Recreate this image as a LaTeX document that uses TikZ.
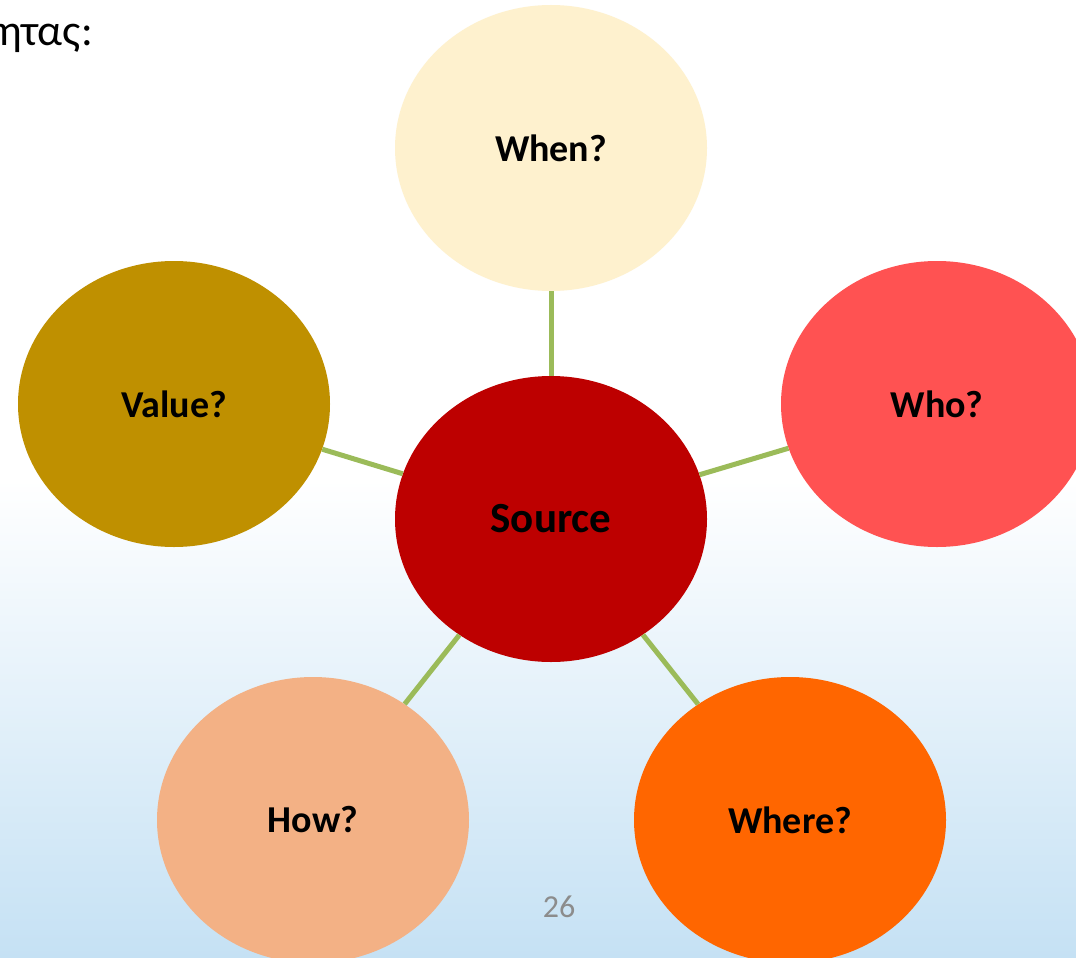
\documentclass[tikz,border=0pt]{standalone}
\usepackage{fontspec}
\setmainfont{Carlito}
\setsansfont{Carlito}
\usetikzlibrary{shapes.geometric}
\definecolor{whenc}{HTML}{FEF1CE}
\definecolor{valuec}{HTML}{BF9000}
\definecolor{whoc}{HTML}{FF5252}
\definecolor{srcc}{HTML}{BD0000}
\definecolor{howc}{HTML}{F3B185}
\definecolor{wherec}{HTML}{FF6600}
\definecolor{linkc}{HTML}{9BBB59}
\definecolor{bgblue}{HTML}{C5E1F4}
\definecolor{numc}{HTML}{8C8C8C}
\tikzset{
  bubble/.style={ellipse, minimum width=312pt, minimum height=286pt, inner sep=0pt,
    font=\fontsize{38}{42}\selectfont\bfseries, text=black},
  link/.style={draw=linkc, line width=5pt}
}
\begin{document}
\begin{tikzpicture}[x=1pt,y=-1pt]
\useasboundingbox (0,0) rectangle (1076,958);
\clip (0,0) rectangle (1076,958);
\fill[white] (0,0) rectangle (1076,480);
\shade[top color=white, bottom color=bgblue] (0,479) rectangle (1076,958);
\node[anchor=base west, font=\fontsize{44}{48}\selectfont, inner sep=0pt] (title) at (-2,46) {ητας:};
\node[bubble, fill=whenc] (when) at (551,148) {When?};
\node[bubble, fill=valuec] (value) at (174,404) {Value?};
\node[bubble, fill=whoc] (who) at (937,404) {Who?};
\node[bubble, fill=srcc, font=\fontsize{43}{48}\selectfont\bfseries] (src) at (551,519) {Source};
\node[bubble, fill=howc] (how) at (313,820) {How?};
\node[bubble, fill=wherec] (where) at (790,820) {Where?};
\draw[link] (src) -- (when);
\draw[link] (src) -- (value);
\draw[link] (src) -- (who);
\draw[link] (src) -- (how);
\draw[link] (src) -- (where);
\node[font=\fontsize{32}{36}\selectfont, text=numc, inner sep=0pt] (num) at (559,907) {26};
\end{tikzpicture}
\end{document}
